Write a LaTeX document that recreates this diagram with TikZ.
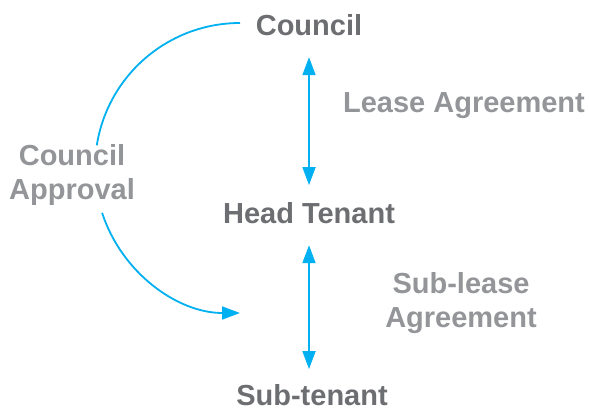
\documentclass[tikz,border=0pt]{standalone}
\usepackage{fontspec}
\setmainfont{Liberation Sans}
\usetikzlibrary{arrows.meta}
\definecolor{darkgrey}{HTML}{6D6E71}
\definecolor{lightgrey}{HTML}{939598}
\definecolor{skyblue}{HTML}{00B0F0}

\begin{document}
\begin{tikzpicture}[x=1pt,y=-1pt,
  party/.style={font=\bfseries\fontsize{29}{34}\selectfont, text=darkgrey, inner sep=0pt, anchor=base},
  deal/.style={font=\bfseries\fontsize{29}{34}\selectfont, text=lightgrey, inner sep=0pt, align=center},
  flow/.style={line width=1.8pt, draw=skyblue},
  twoway/.style={flow, {Triangle[length=18pt,width=13pt]}-{Triangle[length=18pt,width=13pt]}},
  oneway/.style={flow, -{Triangle[length=18pt,width=13pt]}}]
  \useasboundingbox (0,0) rectangle (589,411);
  %PARTIES
  \node[party] (council) at (309,36) {Council};
  \node[party] (head) at (309,224) {Head Tenant};
  \node[party] (sub) at (312,406) {Sub-tenant};
  %AGREEMENTS
  \node[deal, anchor=base] (lease) at (464,113) {Lease Agreement};
  \node[deal] (sublease) at (461,303) {Sub-lease\\Agreement};
  \node[deal] (approval) at (72,175) {Council\\Approval};
  %ARROWS
  \draw[twoway, shorten <=20.7pt, shorten >=17.7pt] (council) -- (head);
  \draw[twoway, shorten <=20.7pt, shorten >=15.7pt] (head.south) -- (head.south |- sub.north);
  %APPROVAL ARC
  \coordinate (ring) at (240,168);
  \draw[flow] (ring) ++(-90:145) arc[start angle=-90, end angle=-171, radius=145];
  \draw[oneway] (ring) ++(162:145) arc[start angle=162, end angle=90, radius=145];
\end{tikzpicture}
\end{document}
